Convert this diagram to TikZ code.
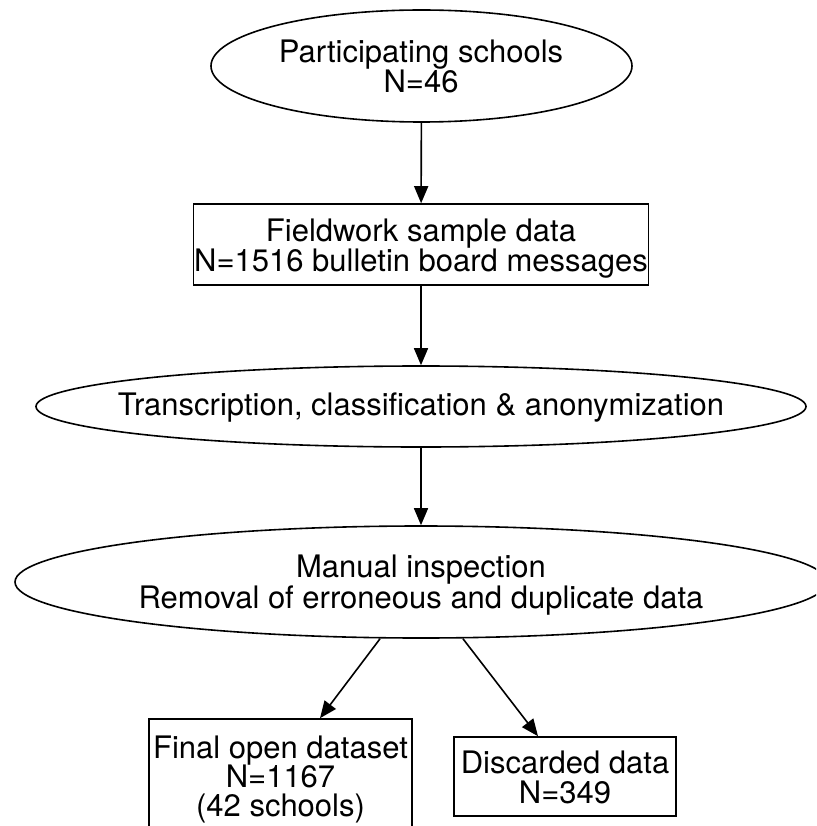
\documentclass[tikz,border=0pt]{standalone}
\usepackage{fontspec}
\setmainfont{TeX Gyre Heros}
\usetikzlibrary{shapes.geometric,arrows.meta}
\tikzset{
  base/.style={draw=black, line width=1.6pt, inner sep=0pt},
  oval/.style={base, ellipse},
  rbox/.style={base, rectangle},
  txt/.style={inner sep=0pt, anchor=base, font=\fontsize{31}{30}\selectfont},
  conn/.style={line width=1.6pt, -{Triangle[length=17pt,width=14pt]}},
}
\begin{document}
\begin{tikzpicture}[x=1pt,y=-1pt]
\useasboundingbox (0,0) rectangle (816,826);
\clip (0,0) rectangle (816,826);
% shapes
\node[oval, minimum width=421pt, minimum height=112pt] (ps) at (421.5,66) {};
\node[rbox, minimum width=455pt, minimum height=81pt] (fw) at (421,244.5) {};
\node[oval, minimum width=770pt, minimum height=81pt] (tr) at (421,406.5) {};
\node[oval, minimum width=812pt, minimum height=112pt] (mi) at (421,582) {};
\node[rbox, minimum width=263pt, minimum height=111pt] (fo) at (280.5,774.5) {};
\node[rbox, minimum width=222pt, minimum height=79pt] (dd) at (565,776.5) {};
% texts
\node[txt] (ps1) at (421,63) {Participating schools};
\node[txt] (ps2) at (421,93) {N=46};
\node[txt] (fw1) at (421,241) {Fieldwork sample data};
\node[txt] (fw2) at (421,271) {N=1516 bulletin board messages};
\node[txt] (tr1) at (421,415) {Transcription, classification \& anonymization};
\node[txt] (mi1) at (421,577) {Manual inspection};
\node[txt] (mi2) at (421,608) {Removal of erroneous and duplicate data};
\node[txt] (fo1) at (280.5,758) {Final open dataset};
\node[txt] (fo2) at (280.5,787) {N=1167};
\node[txt] (fo3) at (280.5,816) {(42 schools)};
\node[txt] (dd1) at (565,773) {Discarded data};
\node[txt] (dd2) at (565,803) {N=349};
% connectors
\draw[conn] (ps) -- (fw);
\draw[conn] (fw) -- (tr);
\draw[conn] (tr) -- (mi);
\draw[conn] ([xshift=-41pt]mi.south) -- ([xshift=39.5pt]fo.north);
\draw[conn] ([xshift=42pt]mi.south) -- ([xshift=-27pt]dd.north);
\end{tikzpicture}
\end{document}
